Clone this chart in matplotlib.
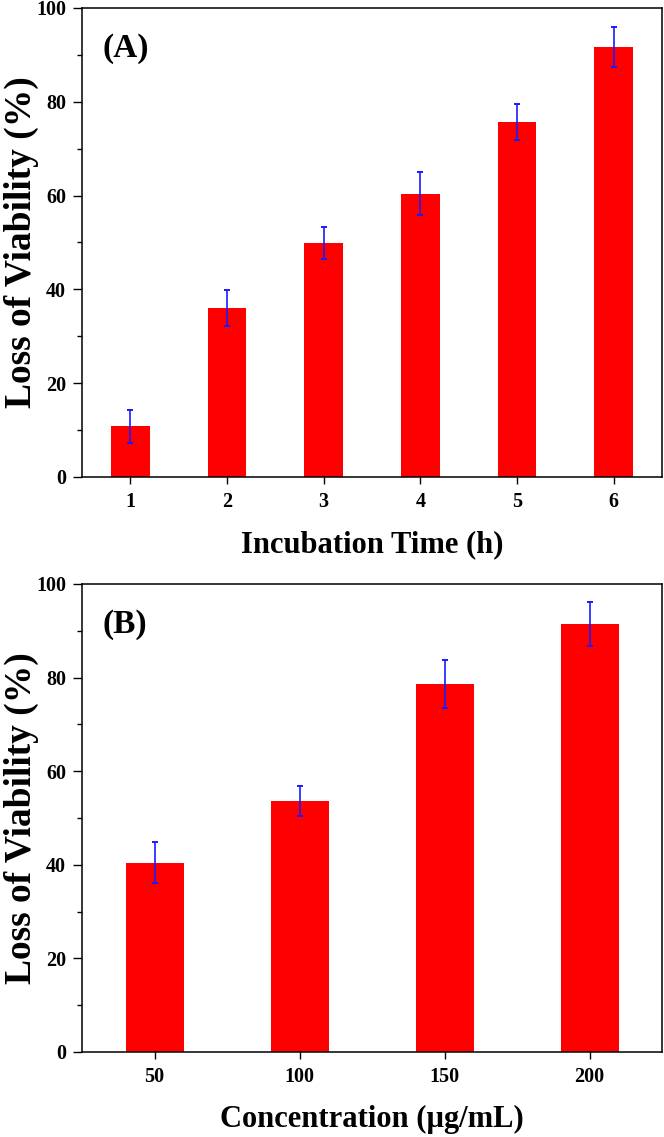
import numpy as np
import matplotlib
matplotlib.use('Agg')
import matplotlib.pyplot as plt
from matplotlib.ticker import MultipleLocator

# Panel A: loss of viability vs incubation time
time_h = [1, 2, 3, 4, 5, 6]
loss_time = [10.8, 36.0, 49.8, 60.4, 75.7, 91.7]
err_time = [3.5, 3.9, 3.4, 4.6, 3.8, 4.3]

# Panel B: loss of viability vs concentration
conc = [50, 100, 150, 200]
loss_conc = [40.4, 53.7, 78.6, 91.5]
err_conc = [4.4, 3.2, 5.1, 4.7]

plt.rcParams['font.family'] = ['Liberation Serif', 'DejaVu Serif']
plt.rcParams['font.weight'] = 'bold'
plt.rcParams['axes.labelweight'] = 'bold'

fig = plt.figure(figsize=(6.64, 11.37), dpi=100)
ax1 = fig.add_axes([0.1235, 0.5805, 0.8735, 0.4125])
ax2 = fig.add_axes([0.1235, 0.0748, 0.8735, 0.4116])


def style_axis(ax):
    for s in ax.spines.values():
        s.set_linewidth(1.1)
        s.set_color('black')
    ax.set_ylim(0, 100)
    ax.yaxis.set_major_locator(MultipleLocator(20))
    ax.yaxis.set_minor_locator(MultipleLocator(10))
    ax.tick_params(axis='y', which='major', direction='out', length=6.5, width=1.0,
                   labelsize=14.5, pad=5)
    ax.tick_params(axis='y', which='minor', direction='out', length=3.3, width=1.0)
    ax.tick_params(axis='x', which='major', direction='out', length=5, width=1.0,
                   labelsize=14.5, pad=6)
    ax.tick_params(axis='x', which='minor', bottom=False)
    ax.set_ylabel('Loss of Viability (%)', fontsize=27)
    ax.yaxis.set_label_coords(-0.075, 0.5)


# (A)
ax1.bar(time_h, loss_time, width=0.4, color='#ff0000', edgecolor='none', zorder=2)
ax1.errorbar(time_h, loss_time, yerr=err_time, fmt='none', ecolor='#1a1aff',
             elinewidth=1.2, capsize=2.5, capthick=1.4, zorder=3)
ax1.set_xlim(0.5, 6.5)
ax1.set_xticks(time_h)
style_axis(ax1)
ax1.set_xlabel('Incubation Time (h)', fontsize=22, labelpad=13)
ax1.text(0.036, 0.913, '(A)', transform=ax1.transAxes, fontsize=24,
         fontweight='bold', va='center', ha='left')

# (B)
ax2.bar(conc, loss_conc, width=20, color='#ff0000', edgecolor='none', zorder=2)
ax2.errorbar(conc, loss_conc, yerr=err_conc, fmt='none', ecolor='#1a1aff',
             elinewidth=1.2, capsize=2.5, capthick=1.4, zorder=3)
ax2.set_xlim(25, 225)
ax2.set_xticks(conc)
style_axis(ax2)
ax2.set_xlabel('Concentration (\u00b5g/mL)', fontsize=22, labelpad=13)
ax2.text(0.036, 0.913, '(B)', transform=ax2.transAxes, fontsize=24,
         fontweight='bold', va='center', ha='left')

fig.savefig('out.png', dpi=100)
